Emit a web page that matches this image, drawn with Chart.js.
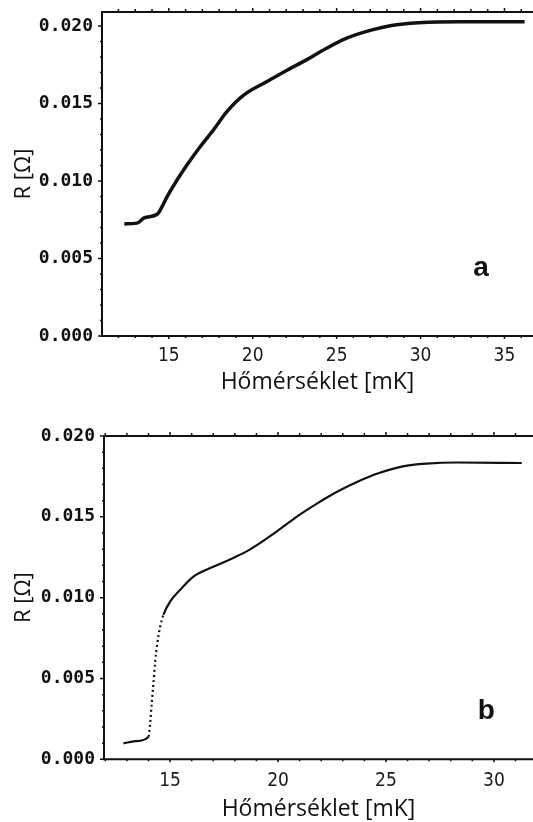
<!DOCTYPE html>
<html>
<head>
<meta charset="utf-8">
<script src="https://cdn.jsdelivr.net/npm/chart.js@4.4.1/dist/chart.umd.min.js"></script>
<style>
  html, body { margin: 0; padding: 0; background: #fff; overflow: hidden; }
  body { width: 533px; height: 822px; position: relative; }
  canvas { position: absolute; left: 0; }
  #chartA { top: 0; }
  #chartB { top: 410px; }
</style>
</head>
<body>
<canvas id="chartA" width="533" height="410"></canvas>
<canvas id="chartB" width="533" height="430"></canvas>
<script>
// (a) minta: hőmérséklet [mK] és ellenállás [Ohm]
const tempA = [12.35, 13.1, 13.53, 14.33, 14.6, 14.9, 15.49, 16.08, 16.88, 17.7, 18.46, 19.48,
               20.85, 22.07, 23.2, 24.4, 25.6, 27.05, 28.27, 29.9, 32.3, 36.2];
const resA = [0.00723, 0.00728, 0.00762, 0.00787, 0.00834, 0.00899, 0.01006, 0.01103, 0.01222, 0.01335,
              0.01447, 0.01555, 0.01641, 0.01716, 0.01781, 0.01856, 0.01921, 0.01973, 0.02003, 0.0202,
              0.02027, 0.02027];

// (b) minta
const tempB = [12.84, 13.4, 14.0, 14.07, 14.15, 14.23, 14.31, 14.41, 14.54, 14.69, 15.0, 15.46, 16.08,
               17.0, 17.75, 18.69, 19.95, 20.89, 21.84, 22.78, 23.73, 24.68, 25.78, 26.88, 28.29, 31.29];
const resB = [0.00099, 0.00112, 0.0014, 0.00212, 0.00346, 0.0047, 0.00604, 0.00718, 0.0082, 0.00893,
              0.00975, 0.01047, 0.0113, 0.01191, 0.01235, 0.01297, 0.0141, 0.01503, 0.01585, 0.01658,
              0.0172, 0.01771, 0.01812, 0.01829, 0.01836, 0.01833];

const xTitle = 'Hőmérséklet [mK]';
const yTitle = 'R [Ω]';

// keret + apro osztasok + panel betujel
const framePlugin = {
  id: 'frame',
  afterDraw(chart, args, opts) {
    const { ctx, chartArea: a, scales: { x, y } } = chart;
    ctx.save();
    ctx.strokeStyle = '#111';
    ctx.lineWidth = 2;
    ctx.beginPath();
    ctx.moveTo(a.right + 2, a.top);
    ctx.lineTo(a.left, a.top);
    ctx.lineTo(a.left, a.bottom);
    ctx.lineTo(a.right + 2, a.bottom);
    ctx.stroke();

    ctx.lineWidth = 1.5;
    ctx.beginPath();
    for (let t = Math.ceil(x.min); t <= x.max; t++) {
      const px = x.getPixelForValue(t);
      const len = t % 5 === 0 ? 4 : 3;
      ctx.moveTo(px, a.top); ctx.lineTo(px, a.top - len);
      ctx.moveTo(px, a.bottom); ctx.lineTo(px, a.bottom + (t % 5 === 0 ? 3 : 2));
    }
    for (let i = 0; i * 0.001 <= y.max + 1e-9; i++) {
      const py = y.getPixelForValue(i * 0.001);
      const len = i % 5 === 0 ? 4 : 2;
      ctx.moveTo(a.left, py); ctx.lineTo(a.left - len, py);
    }
    ctx.stroke();

    ctx.fillStyle = '#111';
    ctx.font = 'bold 28px "Liberation Sans Narrow", "Liberation Sans", sans-serif';
    ctx.textAlign = 'center';
    ctx.textBaseline = 'middle';
    ctx.fillText(opts.label, x.getPixelForValue(opts.at[0]), y.getPixelForValue(opts.at[1]));
    ctx.restore();
  }
};

function makeChart(id, temps, res, o) {
  const pts = temps.map((t, i) => ({ x: t, y: res[i] }));
  return new Chart(document.getElementById(id), {
    type: 'line',
    data: {
      datasets: [{
        data: pts,
        borderColor: '#111',
        borderWidth: o.lineWidth,
        pointRadius: 0,
        cubicInterpolationMode: 'monotone',
        segment: {
          borderDash: c => (o.dotted && c.p0.parsed.x >= o.dotted[0] && c.p1.parsed.x <= o.dotted[1]) ? [2, 3] : undefined
        }
      }]
    },
    options: {
      responsive: false,
      animation: false,
      layout: { padding: { left: 0, right: 0, top: o.padTop, bottom: 0 } },
      plugins: {
        legend: { display: false },
        tooltip: { enabled: false },
        frame: { label: o.label, at: o.labelAt }
      },
      scales: {
        x: {
          type: 'linear',
          min: o.xMin,
          max: o.xMax,
          afterFit: s => { s.height = o.xHeight; s.paddingLeft = 0; s.paddingRight = 0; },
          grid: { display: false, drawTicks: false },
          border: { display: false },
          ticks: {
            stepSize: 5,
            includeBounds: false,
            autoSkip: false,
            maxRotation: 0,
            padding: o.xTickPad,
            color: '#1a1a1a',
            font: { family: '"DejaVu Sans Condensed", "DejaVu Sans", sans-serif', size: 19, lineHeight: 1 }
          },
          title: {
            display: true,
            text: xTitle,
            color: '#111',
            font: { family: '"Open Sans", sans-serif', size: 23, lineHeight: 1.1 },
            padding: { top: 0, bottom: o.xTitlePad }
          }
        },
        y: {
          type: 'linear',
          min: 0,
          max: o.yMax,
          afterFit: s => { s.width = o.yWidth; s.paddingTop = 0; s.paddingBottom = 0; },
          grid: { display: false, drawTicks: false },
          border: { display: false },
          ticks: {
            stepSize: 0.005,
            includeBounds: false,
            padding: 9,
            color: '#111',
            font: { family: '"DejaVu Sans Mono", monospace', size: 18, weight: 'bold' },
            callback: v => v.toFixed(3)
          },
          title: {
            display: true,
            text: yTitle,
            color: '#111',
            font: { family: '"Open Sans", sans-serif', size: 22, lineHeight: 1.1 },
            padding: { top: 12, bottom: 0 }
          }
        }
      }
    },
    plugins: [framePlugin]
  });
}

makeChart('chartA', tempA, resA, {
  lineWidth: 3.5, padTop: 12, xMin: 11.02, xMax: 36.70, yMax: 0.0209,
  xHeight: 74, xTickPad: 11, xTitlePad: 15, yWidth: 102, label: 'a', labelAt: [33.6, 0.00437]
});

makeChart('chartB', tempB, resB, {
  lineWidth: 2.2, padTop: 26, xMin: 11.94, xMax: 31.81, yMax: 0.020,
  xHeight: 80.7, xTickPad: 12, xTitlePad: 18, yWidth: 104, label: 'b', labelAt: [29.65, 0.00294],
  dotted: [13.99, 14.7]
});
</script>
</body>
</html>
